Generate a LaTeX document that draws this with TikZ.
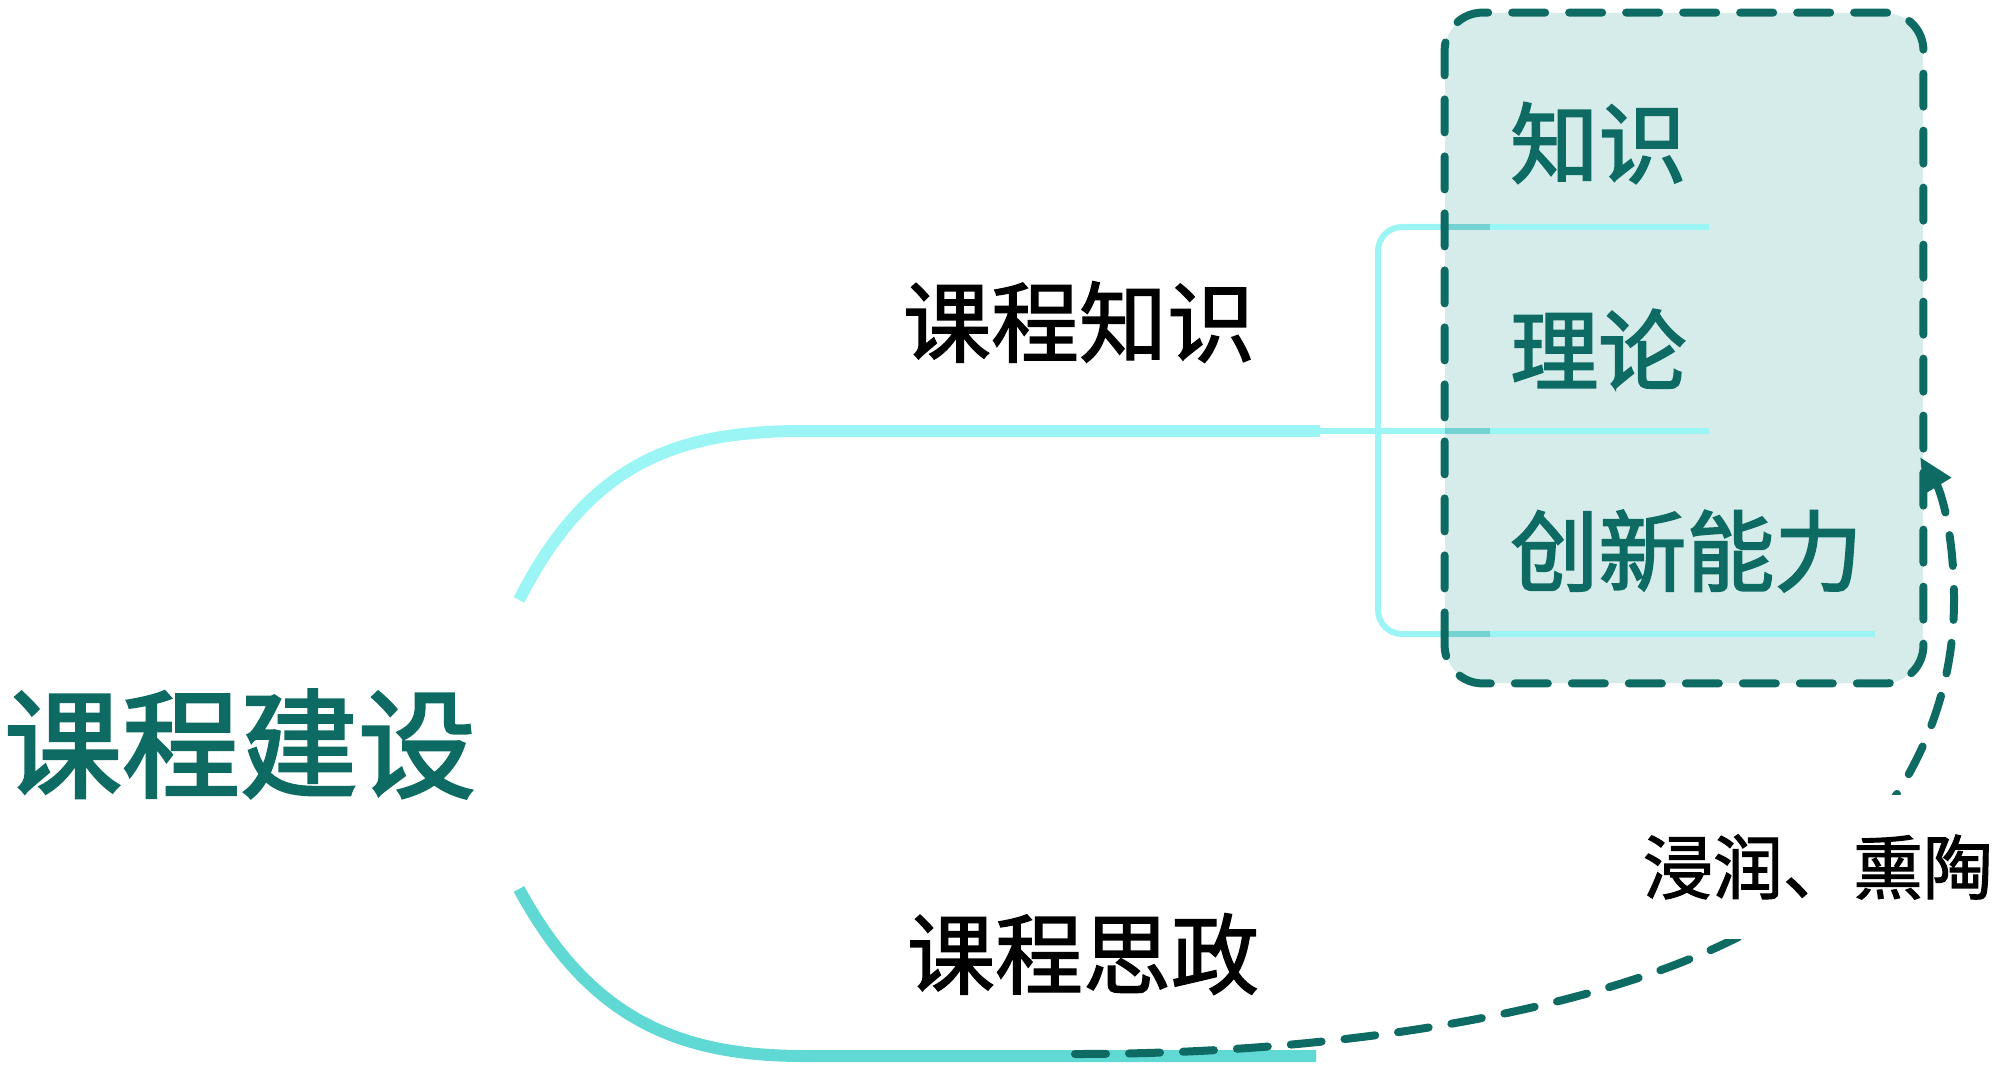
\documentclass[tikz,border=0pt]{standalone}
\usepackage{fontspec}
\newfontfamily\cjk{Noto Sans CJK SC}
\newfontfamily\cjkm[FakeBold=2.2]{Noto Sans CJK SC}
\newfontfamily\cjkt[FakeBold=1.6]{Noto Sans CJK SC}
\usetikzlibrary{arrows.meta}
\definecolor{darkteal}{HTML}{0D6B63}
\definecolor{cyanA}{HTML}{9CF5F5}
\definecolor{cyanB}{HTML}{60D8D4}
\definecolor{boxfill}{HTML}{D6ECEB}
\definecolor{darkseg}{HTML}{74D2D3}
\tikzset{
  mainlbl/.style={font=\cjkm\fontsize{59pt}{62pt}\selectfont, text=darkteal, inner sep=0pt},
  brlbl/.style={font=\cjkt\fontsize{44pt}{46pt}\selectfont, text=black, inner sep=0pt},
  itemlbl/.style={font=\cjkm\fontsize{44pt}{46pt}\selectfont, text=darkteal, anchor=west, inner sep=0pt},
  notelbl/.style={font=\cjkt\fontsize{35pt}{37pt}\selectfont, text=black, fill=white, inner xsep=1pt, inner ysep=20pt},
  thickA/.style={line width=6pt, draw=cyanA},
  thickB/.style={line width=6pt, draw=cyanB},
  thinA/.style={line width=3pt, draw=cyanA},
  darksegline/.style={line width=3pt, draw=darkseg},
  dashbox/.style={line width=4pt, draw=darkteal, line cap=round, dash pattern=on 16.5pt off 12pt, rounded corners=19pt},
  arrowdash/.style={line width=4pt, draw=darkteal, line cap=round, dash pattern=on 15.5pt off 11.5pt, -{Triangle[length=17pt,width=15pt]}}
}
\begin{document}
\begin{tikzpicture}[x=0.5pt,y=-0.5pt]
\useasboundingbox (0,0) rectangle (2000,1075);
% box fill
\node (box) [fill=boxfill, rounded corners=19pt, minimum width=239pt, minimum height=335pt, inner sep=0pt] at (1684,348) {};
% upper branch
\coordinate (uS) at (519,600);
\coordinate (uK) at (804,431);
\coordinate (uE) at (1320,431);
\draw[thickA] (uS) .. controls (590,460) and (680,431) .. (uK) -- (uE);
% bracket
\coordinate (bT) at (1709,227);
\coordinate (bM) at (1709,431);
\coordinate (bB) at (1875,634);
\coordinate (bTL) at (1378,227);
\coordinate (bBL) at (1378,634);
\draw[thinA, rounded corners=12pt] (bT) -- (bTL) -- (bBL) -- (bB);
\draw[thinA] (uE) -- (bM);
\draw[darksegline] (1445,227) -- (1490,227);
\draw[darksegline] (1445,431) -- (1490,431);
\draw[darksegline] (1445,634) -- (1490,634);
% lower branch
\coordinate (lS) at (519,889);
\coordinate (lK) at (804,1056);
\coordinate (lE) at (1316,1056);
\draw[thickB] (lS) .. controls (590,1020) and (680,1056) .. (lK) -- (lE);
% box border
\draw[dashbox] (box.south west) rectangle (box.north east);
% labels
\node (root) [mainlbl] at (240,744) {课程建设};
\node (kn) [brlbl] at (1079,322) {课程知识};
\node (sz) [brlbl] at (1083,954) {课程思政};
\node (i1) [itemlbl] at (1510,143) {知识};
\node (i2) [itemlbl] at (1510,349) {理论};
\node (i3) [itemlbl] at (1510,551) {创新能力};
% arrow
\coordinate (aS) at (1075,1054);
\coordinate (aM1) at (1746,933);
\coordinate (aM2) at (1954,600);
\coordinate (aE) at (1920,457);
\draw[arrowdash] (aS) .. controls (1350,1054) and (1600,1010) .. (aM1)
   .. controls (1850,878) and (1954,760) .. (aM2)
   .. controls (1954,530) and (1940,490) .. (aE);
\node (note) [notelbl] at (1818,867) {浸润、熏陶};
\end{tikzpicture}
\end{document}
